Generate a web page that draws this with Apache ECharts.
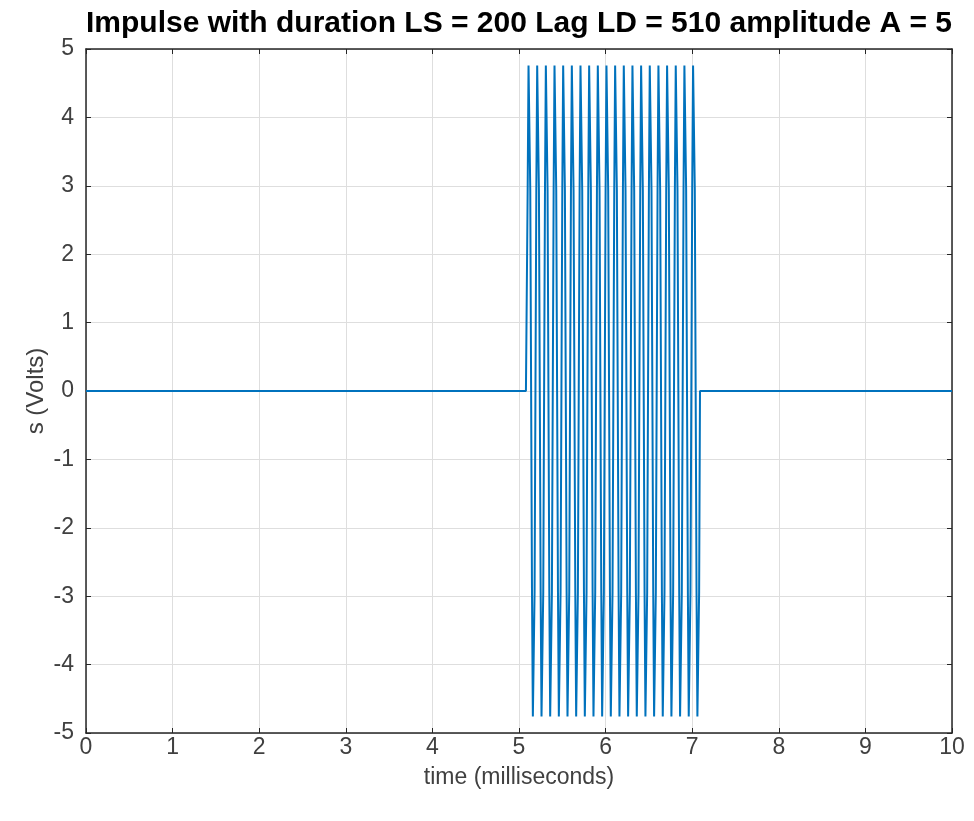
<!DOCTYPE html>
<html>
<head>
<meta charset="utf-8">
<script src="https://cdn.jsdelivr.net/npm/echarts@6/dist/echarts.min.js"></script>
<style>html,body{margin:0;padding:0;background:#fff;}#c{width:974px;height:821px;}</style>
</head>
<body>
<div id="c"></div>
<script>
// --- data ---
const titleText = 'Impulse with duration LS = 200 Lag LD = 510 amplitude A = 5';
const xTicks = [0,1,2,3,4,5,6,7,8,9,10];
const yTicks = [-5,-4,-3,-2,-1,0,1,2,3,4,5];
const sampleStep = 0.01;          // ms between samples
const burstStart = 5.09;          // ms, first burst sample
const leadIn = [[0, 0], [5.08, 0]];
const tailOut = [[7.09, 0], [10, 0]];
const burstValues = [
0,2.94,4.76,4.76,2.94,0,-2.94,-4.76,-4.76,-2.94,
0,2.94,4.76,4.76,2.94,0,-2.94,-4.76,-4.76,-2.94,
0,2.94,4.76,4.76,2.94,0,-2.94,-4.76,-4.76,-2.94,
0,2.94,4.76,4.76,2.94,0,-2.94,-4.76,-4.76,-2.94,
0,2.94,4.76,4.76,2.94,0,-2.94,-4.76,-4.76,-2.94,
0,2.94,4.76,4.76,2.94,0,-2.94,-4.76,-4.76,-2.94,
0,2.94,4.76,4.76,2.94,0,-2.94,-4.76,-4.76,-2.94,
0,2.94,4.76,4.76,2.94,0,-2.94,-4.76,-4.76,-2.94,
0,2.94,4.76,4.76,2.94,0,-2.94,-4.76,-4.76,-2.94,
0,2.94,4.76,4.76,2.94,0,-2.94,-4.76,-4.76,-2.94,
0,2.94,4.76,4.76,2.94,0,-2.94,-4.76,-4.76,-2.94,
0,2.94,4.76,4.76,2.94,0,-2.94,-4.76,-4.76,-2.94,
0,2.94,4.76,4.76,2.94,0,-2.94,-4.76,-4.76,-2.94,
0,2.94,4.76,4.76,2.94,0,-2.94,-4.76,-4.76,-2.94,
0,2.94,4.76,4.76,2.94,0,-2.94,-4.76,-4.76,-2.94,
0,2.94,4.76,4.76,2.94,0,-2.94,-4.76,-4.76,-2.94,
0,2.94,4.76,4.76,2.94,0,-2.94,-4.76,-4.76,-2.94,
0,2.94,4.76,4.76,2.94,0,-2.94,-4.76,-4.76,-2.94,
0,2.94,4.76,4.76,2.94,0,-2.94,-4.76,-4.76,-2.94,
0,2.94,4.76,4.76,2.94,0,-2.94,-4.76,-4.76,-2.94
];

const burst = burstValues.map((v, i) => [+(burstStart + i * sampleStep).toFixed(2), v]);
const seriesData = leadIn.concat(burst, tailOut);

const FONT = '"Liberation Sans", Arial, sans-serif';
const axisCol = '#262626';
const labelCol = '#404040';

const chart = echarts.init(document.getElementById('c'), null, {renderer: 'canvas'});
const baseAxis = {
  type: 'value', min: 0, max: 10, interval: 1,
  axisLine: {show: true, onZero: false, lineStyle: {color: axisCol, width: 1.5}},
  axisTick: {show: true, inside: true, length: 5, lineStyle: {color: axisCol}},
  splitLine: {show: false}
};
chart.setOption({
  animation: false,
  backgroundColor: '#ffffff',
  title: {
    text: titleText, left: 514, top: 4, textAlign: 'center',
    textStyle: {fontFamily: FONT, fontSize: 30, fontWeight: 'bold', color: '#000'}
  },
  grid: {left: 86, right: 22, top: 49, bottom: 88, containLabel: false},
  xAxis: [
    Object.assign({}, baseAxis, {
      position: 'bottom',
      name: 'time (milliseconds)', nameLocation: 'middle', nameGap: 33,
      nameMoveOverlap: false,
      nameTextStyle: {fontFamily: FONT, fontSize: 23, color: labelCol},
      axisLabel: {fontFamily: FONT, fontSize: 23, color: labelCol, margin: 3,
        customValues: xTicks},
      splitLine: {show: true, lineStyle: {color: '#dedede', width: 1}}
    }),
    Object.assign({}, baseAxis, {position: 'top', axisLabel: {show: false}})
  ],
  yAxis: [
    Object.assign({}, baseAxis, {
      min: -5, max: 5, interval: 1, position: 'left',
      name: 's (Volts)', nameLocation: 'middle', nameGap: 38,
      nameMoveOverlap: false,
      nameTextStyle: {fontFamily: FONT, fontSize: 24, color: labelCol},
      axisLabel: {fontFamily: FONT, fontSize: 23, color: labelCol, margin: 12,
        customValues: yTicks},
      splitLine: {show: true, lineStyle: {color: '#dedede', width: 1}}
    }),
    Object.assign({}, baseAxis, {min: -5, max: 5, interval: 1, position: 'right', axisLabel: {show: false}})
  ],
  series: [{
    type: 'line', data: seriesData, xAxisIndex: 0, yAxisIndex: 0,
    showSymbol: false, symbol: 'none', smooth: false,
    lineStyle: {color: '#0072BD', width: 2},
    emphasis: {disabled: true}
  }]
});
</script>
</body>
</html>
